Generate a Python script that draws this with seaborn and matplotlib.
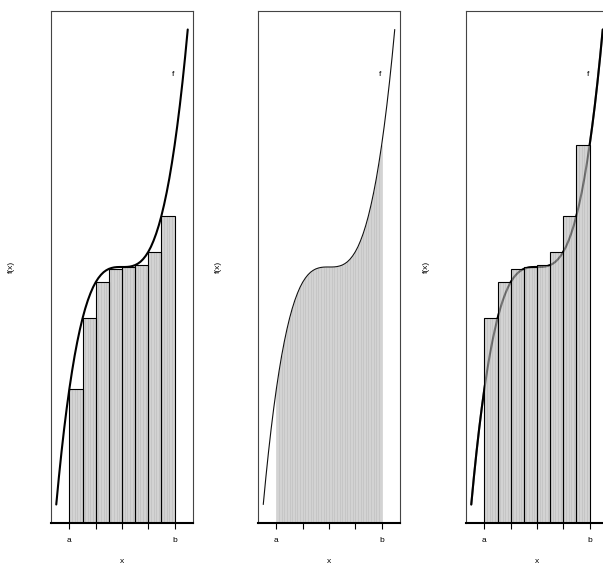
import matplotlib
matplotlib.use('Agg')
import matplotlib.pyplot as plt
import seaborn as sns

# curve f(x) (y in arbitrary units, 0 = axis line)
curve_x = [0.0, 0.2, 0.4, 0.6, 0.8, 1.0, 1.2, 1.4, 1.6, 1.8,
           2.0, 2.2, 2.4, 2.6, 2.8, 3.0, 3.2, 3.4, 3.6, 3.8,
           4.0, 4.2, 4.4, 4.6, 4.8, 5.0, 5.2, 5.4, 5.6, 5.8,
           6.0, 6.2, 6.4, 6.6, 6.8, 7.0, 7.2, 7.4, 7.6, 7.8,
           8.0, 8.2, 8.4, 8.6, 8.8, 9.0, 9.2, 9.4, 9.6, 9.8, 10.0]
curve_y = [18.5, 45.9, 71.1, 94.2, 115.2, 134.4, 151.7, 167.4, 181.3, 193.7,
           204.7, 214.3, 222.6, 229.7, 235.8, 240.8, 244.9, 248.2, 250.8, 252.7,
           254.1, 255.0, 255.6, 255.9, 256.0, 256.0, 256.0, 256.1, 256.4, 257.0,
           257.9, 259.3, 261.2, 263.8, 267.1, 271.2, 276.2, 282.3, 289.4, 297.7,
           307.3, 318.3, 330.7, 344.6, 360.3, 377.6, 396.8, 417.8, 440.9, 466.1, 493.5]

# coarse partition of [a, b] into 8 pieces
coarse_left = [1, 2, 3, 4, 5, 6, 7, 8]
left_heights = [134.4, 204.7, 240.8, 254.1, 256.0, 257.9, 271.2, 307.3]
right_heights = [204.7, 240.8, 254.1, 256.0, 257.9, 271.2, 307.3, 377.6]

# fine partition into 40 strips (edges a..b)
fine_left = curve_x[5:45]
fine_edges = curve_x[5:46]
fine_edge_heights = curve_y[5:46]

tick_pos = [1, 3, 5, 7, 9]
tick_labels = ['a', '', '', '', 'b']

sns.set_style('white')
plt.rcParams['font.family'] = ['Liberation Sans', 'DejaVu Sans']
plt.rcParams['text.color'] = 'black'
plt.rcParams['axes.labelcolor'] = 'black'
plt.rcParams['xtick.color'] = 'black'

fig = plt.figure(figsize=(6.03, 5.66), dpi=100)
lefts = [51 / 603, 258 / 603, 466 / 603]
axes = [fig.add_axes([l, 43 / 566, 142 / 603, 512 / 566]) for l in lefts]

fill = '#d3d3d3'
strip_edge = '#bdbdbd'


def style(ax):
    ax.set_xlim(-0.4, 10.4)
    ax.set_ylim(0, 512)
    ax.set_yticks([])
    ax.set_xticks(tick_pos)
    ax.set_xticklabels(tick_labels, fontsize=6)
    ax.tick_params(axis='x', bottom=True, length=4, width=0.8, pad=6, color='black')
    for s in ['left', 'top', 'right']:
        ax.spines[s].set_color('#444444')
        ax.spines[s].set_linewidth(0.8)
    ax.spines['bottom'].set_color('black')
    ax.spines['bottom'].set_linewidth(1.5)
    ax.spines['bottom'].set_zorder(5)
    ax.set_xlabel('x', fontsize=6, labelpad=10)
    ax.set_ylabel('f(x)', fontsize=6, labelpad=26)


def fine_strips(ax, heights, z):
    ax.bar(fine_left, heights, width=0.2, align='edge', color=fill,
           edgecolor=strip_edge, linewidth=0.4, zorder=z)


# left sum
ax = axes[0]
fine_strips(ax, [h for h in left_heights for _ in range(5)], 2)
ax.bar(coarse_left, left_heights, width=1, align='edge', facecolor='none',
       edgecolor='black', linewidth=0.8, zorder=3)
sns.lineplot(x=curve_x, y=curve_y, ax=ax, color='black', linewidth=1.5, zorder=4)
ax.text(8.9, 448, 'f', ha='center', va='center', fontsize=6)
style(ax)

# fine sum: area under the curve cut into thin strips
ax = axes[1]
ax.fill_between(fine_edges, 0, fine_edge_heights, color=fill, linewidth=0, zorder=2)
ax.vlines(fine_edges, 0, fine_edge_heights, color=strip_edge, linewidth=0.4, zorder=3)
sns.lineplot(x=curve_x, y=curve_y, ax=ax, color='#111111', linewidth=0.8, zorder=4)
ax.text(8.9, 448, 'f', ha='center', va='center', fontsize=6)
style(ax)

# right sum
ax = axes[2]
sns.lineplot(x=curve_x, y=curve_y, ax=ax, color='black', linewidth=1.5, zorder=1)
fine_strips(ax, [h for h in right_heights for _ in range(5)], 2)
ax.bar(coarse_left, right_heights, width=1, align='edge', facecolor='none',
       edgecolor='black', linewidth=0.8, zorder=3)
sns.lineplot(x=curve_x, y=curve_y, ax=ax, color='black', alpha=0.45,
             linewidth=1.5, zorder=4)
ax.text(8.9, 448, 'f', ha='center', va='center', fontsize=6)
style(ax)

fig.savefig('out.png', dpi=100)
